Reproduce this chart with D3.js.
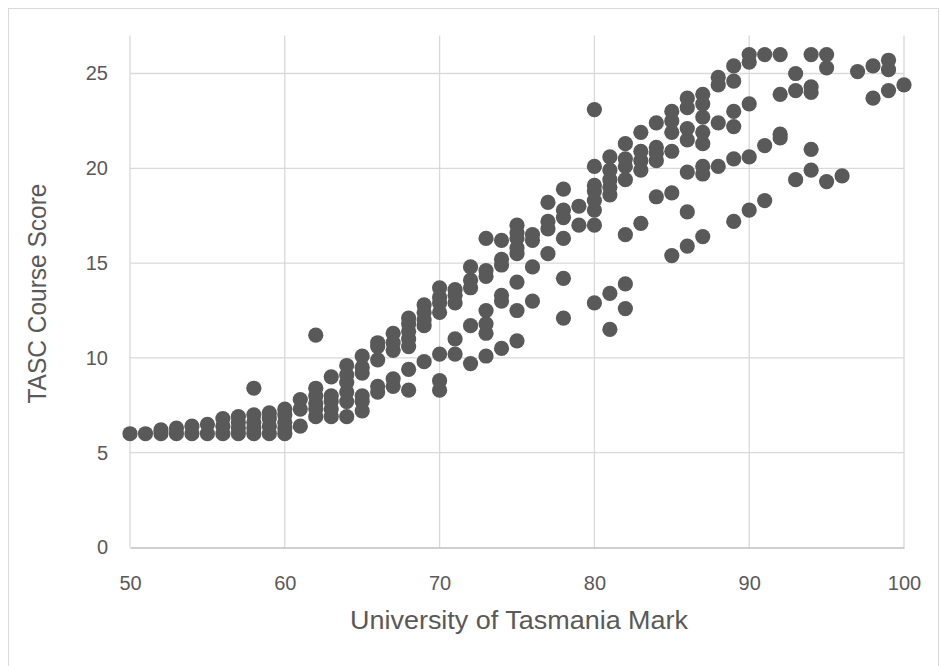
<!DOCTYPE html>
<html>
<head>
<meta charset="utf-8">
<script src="https://cdn.jsdelivr.net/npm/d3@7"></script>
<style>
  body { margin: 0; background: #fff; }
  text { font-family: "Liberation Sans", Arial, sans-serif; fill: #595959; }
</style>
</head>
<body>
<div id="chart"></div>
<script>
const marks = [50, 51, 52, 53, 54, 55, 56, 57, 58, 59, 60, 61, 62, 63, 64, 65, 66, 67, 68, 69, 70,
  71, 72, 73, 74, 75, 76, 77, 78, 79, 80, 81, 82, 83, 84, 85, 86, 87, 88, 89, 90,
  91, 92, 93, 94, 95, 96, 97, 98, 99, 100];

const scoresAtMark = [
  [6.0], [6.0], [6.0, 6.2], [6.0, 6.3], [6.0, 6.4], [6.0, 6.5], [6.0, 6.4, 6.8],
  [6.0, 6.3, 6.6, 6.9], [6.0, 6.3, 6.6, 7.0, 8.4], [6.0, 6.4, 6.8, 7.1],
  [6.0, 6.3, 6.6, 7.0, 7.3], [6.4, 7.3, 7.8],
  [6.9, 7.3, 7.6, 8.0, 8.4, 11.2],
  [6.9, 7.3, 7.7, 8.0, 9.0],
  [6.9, 7.7, 8.2, 8.7, 9.1, 9.6],
  [7.2, 7.7, 8.0, 9.2, 9.5, 10.1],
  [8.2, 8.5, 9.9, 10.6, 10.8],
  [8.5, 8.9, 10.4, 10.8, 11.3],
  [8.3, 9.4, 10.6, 11.0, 11.4, 11.8, 12.1],
  [9.8, 11.7, 12.0, 12.4, 12.8],
  [8.3, 8.8, 10.2, 12.4, 12.9, 13.2, 13.7],
  [10.2, 11.0, 12.9, 13.3, 13.6],
  [9.7, 11.7, 13.7, 14.1, 14.8],
  [10.1, 11.3, 11.8, 12.5, 14.3, 14.6, 16.3],
  [10.5, 13.0, 13.3, 14.9, 15.2, 16.2],
  [10.9, 12.5, 14.0, 15.5, 15.8, 16.3, 16.6, 17.0],
  [13.0, 14.8, 16.2, 16.5],
  [15.5, 16.8, 17.2, 18.2],
  [12.1, 14.2, 16.3, 17.4, 17.8, 18.9],
  [17.0, 18.0],
  [12.9, 17.0, 17.8, 18.3, 18.8, 19.1, 20.1, 23.1],
  [11.5, 13.4, 18.6, 19.0, 19.4, 19.9, 20.6],
  [12.6, 13.9, 16.5, 19.4, 20.1, 20.5, 21.3],
  [17.1, 19.9, 20.4, 20.9, 21.9],
  [18.5, 20.4, 20.8, 21.1, 22.4],
  [15.4, 18.7, 20.9, 21.9, 22.5, 23.0],
  [15.9, 17.7, 19.8, 21.5, 22.1, 23.2, 23.7],
  [16.4, 19.7, 20.1, 21.3, 21.9, 22.7, 23.4, 23.9],
  [20.1, 22.4, 24.4, 24.8],
  [17.2, 20.5, 22.2, 23.0, 24.6, 25.4],
  [17.8, 20.6, 23.4, 25.6, 26.0],
  [18.3, 21.2, 26.0],
  [21.6, 21.8, 23.9, 26.0],
  [19.4, 24.1, 25.0],
  [19.9, 21.0, 24.0, 24.3, 26.0],
  [19.3, 25.3, 26.0],
  [19.6],
  [25.1],
  [23.7, 25.4],
  [24.1, 25.2, 25.7],
  [24.4]
];

const xTicks = [50, 60, 70, 80, 90, 100];
const yTicks = [0, 5, 10, 15, 20, 25];

const points = [];
marks.forEach(function(m, i) {
  scoresAtMark[i].forEach(function(s) { points.push({mark: m, score: s}); });
});

const W = 940, H = 666;
const plot = {left: 130, right: 904, top: 35.6, bottom: 547.5};

const svg = d3.select("#chart").append("svg")
  .attr("width", W)
  .attr("height", H);

svg.append("rect")
  .attr("x", 8.5).attr("y", 8.5)
  .attr("width", 930).attr("height", 700)
  .attr("fill", "none")
  .attr("stroke", "#d9d9d9");

const x = d3.scaleLinear().domain([50, 100]).range([plot.left, plot.right]);
const y = d3.scaleLinear().domain([0, 27]).range([plot.bottom, plot.top]);

// gridlines
svg.append("g")
  .selectAll("line.v")
  .data(xTicks)
  .enter().append("line")
  .attr("x1", d => x(d)).attr("x2", d => x(d))
  .attr("y1", plot.top).attr("y2", plot.bottom)
  .attr("stroke", "#d9d9d9").attr("stroke-width", 1.3);

svg.append("g")
  .selectAll("line.h")
  .data(yTicks.filter(d => d > 0))
  .enter().append("line")
  .attr("x1", plot.left).attr("x2", plot.right)
  .attr("y1", d => y(d)).attr("y2", d => y(d))
  .attr("stroke", "#d9d9d9").attr("stroke-width", 1.3);

// axes
const xAxis = svg.append("g")
  .attr("transform", "translate(0," + plot.bottom + ")")
  .call(d3.axisBottom(x).tickValues(xTicks).tickSize(0).tickPadding(28));
xAxis.select(".domain").attr("stroke", "#bfbfbf").attr("stroke-width", 1.3);
xAxis.selectAll("text").style("font-size", "20px").attr("fill", "#595959");

const yAxis = svg.append("g")
  .attr("transform", "translate(" + plot.left + ",0)")
  .call(d3.axisLeft(y).tickValues(yTicks).tickSize(0).tickPadding(22));
yAxis.select(".domain").remove();
yAxis.selectAll("text").style("font-size", "20px").attr("fill", "#595959");

// points
svg.append("g")
  .selectAll("circle")
  .data(points)
  .enter()
  .append("circle")
  .attr("cx", d => x(d.mark))
  .attr("cy", d => y(d.score))
  .attr("r", 7.6)
  .attr("fill", "#595959");

// axis titles
svg.append("text")
  .attr("x", (plot.left + plot.right) / 2 + 2)
  .attr("y", 629)
  .attr("text-anchor", "middle")
  .attr("textLength", 338)
  .attr("lengthAdjust", "spacingAndGlyphs")
  .style("font-size", "25px")
  .text("University of Tasmania Mark");

svg.append("text")
  .attr("transform", "translate(46," + ((plot.top + plot.bottom) / 2 + 2) + ") rotate(-90)")
  .attr("text-anchor", "middle")
  .attr("textLength", 220)
  .attr("lengthAdjust", "spacingAndGlyphs")
  .style("font-size", "25px")
  .text("TASC Course Score");
</script>
</body>
</html>
